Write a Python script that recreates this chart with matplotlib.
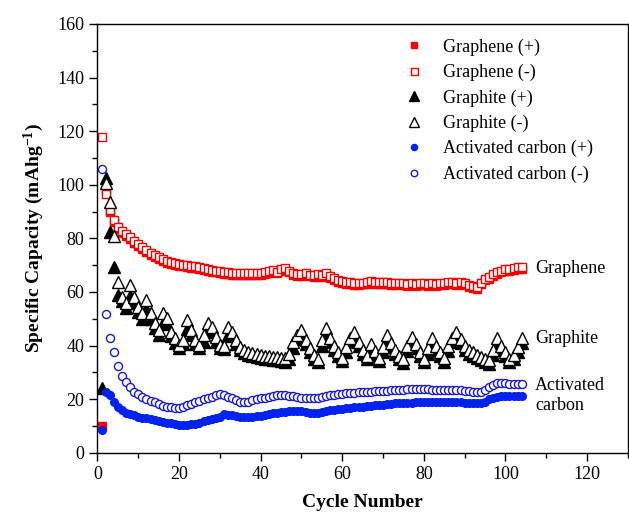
import numpy as np
import matplotlib
matplotlib.use("Agg")
import matplotlib.pyplot as plt
from matplotlib.ticker import MultipleLocator

plt.rcParams['font.family'] = ['Liberation Serif', 'DejaVu Serif']
plt.rcParams['mathtext.fontset'] = 'custom'
plt.rcParams['mathtext.rm'] = 'Liberation Serif'
plt.rcParams['mathtext.bf'] = 'Liberation Serif:bold'

nan = np.nan
cycles = list(range(1, 105))

graphene_neg = [118, 96.5, 90.5, 87.0, 84.3, 82.8, 81.6, 80.4, 79.1, 77.9,
                76.6, 75.6, 74.6, 73.8, 72.9, 72.2, 71.4, 71.0, 70.7, 70.4,
                70.2, 70.0, 69.8, 69.5, 69.3, 69.0, 68.7, 68.3, 68.0, 67.8,
                67.5, 67.3, 67.1, 67.0, 66.9, 66.9, 67.0, 66.9, 66.9, 67.0,
                67.3, 67.8, 68.2, 67.6, 68.4, 68.8, 68.0, 67.2, 66.8, 66.6,
                66.9, 66.5, 66.3, 66.8, 66.4, 66.9, 65.8, 65.2, 64.6, 64.0,
                63.8, 63.6, 63.4, 63.2, 63.5, 63.8, 64.0, 63.7, 63.8, 63.6,
                63.8, 63.4, 63.2, 63.5, 63.3, 63.0, 63.2, 63.0, 63.2, 63.4,
                63.0, 63.2, 63.0, 63.4, 63.2, 63.6, 63.8, 63.4, 63.8, 63.2,
                62.6, 62.2, 61.9, 63.5, 65.0, 65.5, 66.8, 67.5, 68.0, 68.4,
                68.6, 69.0, 69.2, 69.4]

graphene_pos = [10.0, 98.0, 89.8, 86.2, 83.5, 82.0, 80.8, 79.6, 78.4, 77.2,
                75.9, 74.9, 73.9, 73.1, 72.2, 71.5, 70.7, 70.3, 70.0, 69.7,
                69.5, 69.3, 69.1, 68.8, 68.6, 68.3, 68.0, 67.6, 67.3, 67.1,
                66.8, 66.6, 66.4, 66.3, 66.2, 66.2, 66.3, 66.2, 66.2, 66.3,
                66.6, 67.1, 67.5, 66.9, 67.7, 68.1, 67.3, 66.5, 66.1, 65.9,
                66.2, 65.8, 65.6, 66.1, 65.7, 66.2, 65.1, 64.5, 63.9, 63.3,
                63.1, 62.9, 62.7, 62.5, 62.8, 63.1, 63.3, 63.0, 63.1, 62.9,
                63.1, 62.7, 62.5, 62.8, 62.6, 62.3, 62.5, 62.3, 62.5, 62.7,
                62.3, 62.5, 62.3, 62.7, 62.5, 62.9, 63.1, 62.7, 63.1, 62.5,
                61.9, 61.5, 61.2, 62.8, 64.3, 64.8, 66.1, 66.8, 67.3, 67.7,
                67.9, 68.3, 68.5, 68.7]

graphite_neg = [nan, 100.5, 93.7, 80.9, 63.8, 58.0, 55.7, 62.6, 58.0, 54.5,
                52.0, 57.0, 52.0, 48.3, 45.8, 52.0, 50.1, 45.1, 42.7, 40.2,
                42.0, 49.5, 45.8, 42.0, 40.2, 44.0, 48.3, 47.0, 43.3, 40.2,
                40.0, 47.0, 45.1, 42.0, 39.5, 38.3, 37.6, 37.1, 36.8, 36.5,
                36.2, 36.0, 35.8, 35.6, 35.3, 35.2, 36.8, 41.5, 44.0, 45.8,
                42.0, 39.0, 36.5, 35.0, 42.0, 46.4, 43.0, 40.0, 37.5, 35.5,
                39.5, 43.0, 45.1, 41.5, 38.5, 36.0, 40.5, 38.0, 35.5, 39.5,
                43.9, 41.0, 38.5, 36.0, 34.8, 40.0, 43.3, 40.5, 37.5, 35.0,
                39.0, 42.7, 40.0, 37.5, 35.2, 40.0, 43.0, 45.1, 42.5, 40.0,
                38.3, 37.5, 36.5, 35.8, 35.0, 34.5, 38.5, 42.7, 40.0, 37.5,
                35.0, 36.5, 39.5, 42.7]

graphite_pos = [24.0, 102.4, 82.5, 69.4, 58.8, 56.5, 54.0, 58.5, 56.0, 52.5,
                50.0, 53.5, 50.0, 46.5, 44.0, 48.5, 48.0, 43.5, 41.0, 39.0,
                40.5, 46.0, 44.0, 40.5, 39.0, 41.5, 45.5, 45.0, 41.5, 39.0,
                38.8, 44.0, 43.5, 40.5, 38.3, 37.2, 36.5, 36.0, 35.7, 35.4,
                35.1, 34.9, 34.7, 34.5, 34.2, 34.0, 35.0, 39.0, 42.5, 44.0,
                40.5, 37.5, 35.0, 33.8, 40.0, 44.5, 41.5, 38.5, 36.0, 34.3,
                37.5, 41.5, 43.5, 40.0, 37.0, 34.8, 38.5, 36.5, 34.3, 37.5,
                42.0, 39.5, 37.0, 34.8, 33.6, 38.0, 41.5, 39.0, 36.0, 33.8,
                37.0, 41.0, 38.5, 36.0, 34.0, 38.0, 41.5, 43.5, 41.0, 38.5,
                37.0, 36.2, 35.3, 34.6, 33.8, 33.3, 36.5, 41.0, 38.5, 36.0,
                33.8, 34.8, 37.5, 41.0]

ac_neg = [106, 51.6, 42.9, 37.5, 32.5, 28.7, 26.3, 24.4, 22.8, 21.8,
          20.9, 20.0, 19.4, 18.8, 18.2, 17.6, 17.2, 17.0, 16.8, 16.8,
          17.2, 17.7, 18.2, 19.0, 19.4, 19.9, 20.4, 20.9, 21.4, 21.8,
          21.5, 20.9, 20.3, 19.6, 19.1, 18.9, 19.1, 19.6, 20.0, 20.3,
          20.6, 20.9, 21.1, 21.4, 21.5, 21.4, 21.2, 21.0, 20.8, 20.5,
          20.4, 20.3, 20.3, 20.5, 20.8, 21.1, 21.4, 21.7, 21.9, 22.1,
          22.2, 22.3, 22.4, 22.5, 22.6, 22.7, 22.8, 22.9, 23.0, 23.1,
          23.2, 23.3, 23.4, 23.5, 23.6, 23.7, 23.8, 23.8, 23.8, 23.7,
          23.7, 23.6, 23.6, 23.6, 23.6, 23.6, 23.5, 23.4, 23.3, 23.1,
          22.9, 22.7, 22.5, 22.6, 23.5, 24.5, 25.3, 25.9, 26.0, 25.9,
          25.8, 25.7, 25.7, 25.6]

ac_pos = [8.5, 22.8, 21.5, 19.0, 17.2, 15.9, 14.9, 14.5, 14.1, 13.4,
          13.1, 12.8, 12.6, 12.2, 11.8, 11.5, 11.2, 11.0, 10.7, 10.3,
          10.3, 10.3, 10.6, 10.9, 11.2, 11.7, 12.2, 12.6, 13.0, 13.4,
          14.3, 14.2, 14.1, 13.8, 13.4, 13.3, 13.4, 13.4, 13.6, 13.8,
          14.1, 14.4, 14.7, 14.9, 15.1, 15.3, 15.5, 15.6, 15.7, 15.5,
          15.2, 14.9, 14.7, 14.9, 15.2, 15.5, 15.9, 16.1, 16.3, 16.5,
          16.6, 16.8, 16.9, 17.1, 17.2, 17.4, 17.5, 17.7, 17.8, 18.0,
          18.1, 18.3, 18.4, 18.5, 18.6, 18.6, 18.7, 18.8, 18.9, 19.0,
          19.0, 19.0, 19.0, 19.0, 19.0, 18.9, 18.9, 18.8, 18.8, 18.7,
          18.6, 18.5, 18.4, 18.4, 18.9, 19.9, 20.5, 20.9, 21.0, 21.0,
          21.1, 21.1, 21.2, 21.2]

labels = ['Graphene (+)', 'Graphene (-)', 'Graphite (+)', 'Graphite (-)',
          'Activated carbon (+)', 'Activated carbon (-)']

fig = plt.figure(figsize=(6.29, 5.21), dpi=100)
ax = fig.add_axes([0.155, 0.131, 0.843, 0.823])

ax.plot(cycles, graphene_pos, ls='none', marker='s', ms=5.8, color='#ff0000',
        mec='#ff0000', label=labels[0])
ax.plot(cycles, graphene_neg, ls='none', marker='s', ms=6.3, mfc='white',
        mec='#ee0000', mew=1.0, label=labels[1])
ax.plot(cycles, graphite_pos, ls='none', marker='^', ms=8.5, color='black',
        label=labels[2])
ax.plot(cycles, graphite_neg, ls='none', marker='^', ms=9, mfc='white',
        mec='black', mew=1.0, label=labels[3])
ax.plot(cycles, ac_pos, ls='none', marker='o', ms=5.5, color='#0022ee',
        label=labels[4])
ax.plot(cycles, ac_neg, ls='none', marker='o', ms=5.8, mfc='white',
        mec='#1a1acc', mew=1.0, label=labels[5])

ax.set_xlim(0, 130)
ax.set_ylim(0, 160)
ax.xaxis.set_major_locator(MultipleLocator(20))
ax.xaxis.set_minor_locator(MultipleLocator(10))
ax.yaxis.set_major_locator(MultipleLocator(20))
ax.yaxis.set_minor_locator(MultipleLocator(10))
ax.tick_params(which='both', direction='out', top=False, right=False,
               labelsize=13, width=1)
ax.tick_params(which='major', length=6)
ax.tick_params(which='minor', length=3.5)
for s in ax.spines.values():
    s.set_linewidth(1)

ax.set_xlabel('Cycle Number', fontsize=14, fontweight='bold', labelpad=8)
ax.set_ylabel(r'Specific Capacity (mAhg$\mathbf{^{-1}}$)', fontsize=14,
              fontweight='bold', labelpad=8)

leg = ax.legend(loc='upper left', bbox_to_anchor=(0.535, 1.0), frameon=False,
                fontsize=13, handletextpad=0.6, labelspacing=0.45,
                borderpad=0.3, markerscale=0.8)

ax.text(107.3, 68.8, 'Graphene', fontsize=13, va='center', ha='left')
ax.text(107.3, 42.7, 'Graphite', fontsize=13, va='center', ha='left')
ax.text(107.3, 21.3, 'Activated\ncarbon', fontsize=13, va='center', ha='left',
        linespacing=1.25)

fig.savefig('out.png', dpi=100)
